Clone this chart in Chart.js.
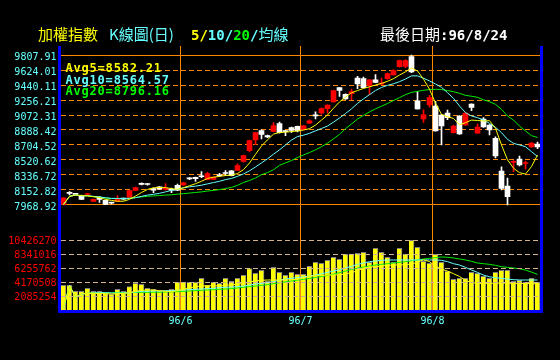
<!DOCTYPE html>
<html><head><meta charset="utf-8">
<script src="https://cdn.jsdelivr.net/npm/chart.js@4.4.1/dist/chart.umd.min.js"></script>
<style>
html,body{margin:0;padding:0;background:#000;width:560px;height:360px;overflow:hidden}
#wrap{position:relative;width:560px;height:360px}
canvas{position:absolute;left:0;top:0}
.t{position:absolute;white-space:nowrap;line-height:16px;top:26px;font-family:"DejaVu Sans Mono","Noto Sans CJK TC",monospace;font-size:14px;font-weight:bold}
.cj{font-family:"Noto Sans CJK TC",sans-serif;font-size:15px;font-weight:normal}
.lg{position:absolute;white-space:nowrap;font-family:"DejaVu Sans Mono",monospace;font-weight:bold;font-size:12px;letter-spacing:0.8px;line-height:12px}
</style></head><body>
<div id="wrap">
<canvas id="c" width="560" height="360"></canvas>
<div class="t" style="left:38px;color:#ffff00"><span class="cj">加權指數</span></div>
<div class="t" style="left:109px;color:#66ffff"><span class="cj">K線圖(日)</span></div>
<div class="t" style="left:191px"><span style="color:#ffff00">5/</span><span style="color:#66ffff">10/</span><span style="color:#00ff00">20</span><span style="color:#66ffff">/<span class="cj">均線</span></span></div>
<div class="t" style="left:380px;color:#ffffff"><span class="cj">最後日期</span>:96/8/24</div>
<div class="lg" id="lg5" style="left:65.5px;top:62px;color:#ffff00"></div>
<div class="lg" id="lg10" style="left:65.5px;top:73.7px;color:#66ffff"></div>
<div class="lg" id="lg20" style="left:65.5px;top:85.4px;color:#00ff00"></div>
</div>
<script>
const dates = [
'96/5/4','96/5/7','96/5/8','96/5/9','96/5/10','96/5/11','96/5/14','96/5/15','96/5/16','96/5/17',
'96/5/18','96/5/21','96/5/22','96/5/23','96/5/24','96/5/25','96/5/28','96/5/29','96/5/30','96/5/31',
'96/6/1','96/6/4','96/6/5','96/6/6','96/6/7','96/6/8','96/6/11','96/6/12','96/6/13','96/6/14',
'96/6/15','96/6/18','96/6/20','96/6/21','96/6/22','96/6/25','96/6/26','96/6/27','96/6/28','96/6/29',
'96/7/2','96/7/3','96/7/4','96/7/5','96/7/6','96/7/9','96/7/10','96/7/11','96/7/12','96/7/13',
'96/7/16','96/7/17','96/7/18','96/7/19','96/7/20','96/7/23','96/7/24','96/7/25','96/7/26','96/7/27',
'96/7/30','96/7/31','96/8/1','96/8/2','96/8/3','96/8/6','96/8/7','96/8/8','96/8/9','96/8/10',
'96/8/13','96/8/14','96/8/15','96/8/16','96/8/17','96/8/20','96/8/21','96/8/22','96/8/23','96/8/24'];

const openP = [
7975,8118,8108,8087,8098,8014,8060,8026,7996,8014,
8046,8063,8149,8228,8225,8170,8193,8160,8160,8210,
8214,8300,8308,8328,8279,8283,8334,8362,8388,8394,
8502,8635,8768,8880,8820,8870,8968,8875,8918,8932,
8893,8972,9070,9097,9150,9234,9407,9325,9333,9526,
9518,9436,9505,9450,9518,9565,9666,9668,9790,9246,
9025,9197,9183,9072,9097,8855,9060,8950,9207,8851,
9023,8950,8787,8386,8202,8490,8533,8478,8680,8717];
const highP = [
8060,8132,8112,8090,8112,8040,8073,8030,8003,8083,
8054,8150,8190,8240,8232,8175,8195,8230,8175,8225,
8247,8305,8312,8380,8370,8315,8357,8390,8392,8475,
8580,8765,8860,8890,8825,8980,8985,8880,8925,8936,
8945,9012,9112,9160,9198,9378,9410,9332,9390,9546,
9538,9508,9567,9526,9585,9628,9745,9752,9807.91,9360,
9135,9312,9240,9080,9133,8945,9065,9100,9210,8962,
9040,8955,8805,8438,8300,8512,8570,8508,8735,8740];
const lowP = [
7970,8092,8092,8035,8090,8012,8002,7972,7978,8010,
8030,8060,8145,8215,8212,8120,8160,8150,8120,8145,
8210,8280,8259,8305,8275,8280,8320,8330,8325,8390,
8495,8620,8709,8780,8795,8866,8850,8820,8860,8865,
8890,8968,9023,9082,9097,9230,9300,9262,9260,9395,
9403,9321,9470,9444,9510,9560,9660,9652,9592,9144,
8980,9168,8874,8705,9015,8850,8835,8945,9125,8849,
8920,8827,8545,8153,7968.92,8378,8447,8410,8675,8660];
const closeP = [
8055,8112,8100,8038,8104,8038,8038,7976,7991,8046,
8040,8145,8181,8222,8220,8152,8165,8175,8150,8150,
8242,8290,8292,8315,8353,8312,8328,8355,8330,8451,
8574,8758,8856,8833,8805,8944,8856,8868,8882,8878,
8941,9002,9062,9150,9195,9371,9375,9268,9358,9454,
9407,9505,9473,9464,9579,9616,9738,9738,9600,9148,
9074,9286,8878,8937,9039,8937,8839,9097,9166,8925,
8925,8888,8570,8173,8071,8505,8459,8490,8729,8680];

const ma5 = [
7975,8075,8090,8085,8080,8070,8060,8038,8025,8015,
8015,8038,8078,8122,8160,8180,8184,8182,8170,8162,
8182,8205,8230,8260,8295,8310,8320,8330,8335,8355,
8402,8484,8590,8692,8768,8838,8858,8862,8868,8878,
8888,8905,8948,9010,9072,9155,9232,9292,9345,9372,
9398,9418,9440,9460,9485,9518,9562,9602,9648,9612,
9512,9388,9218,9080,9050,9030,8952,8978,9010,9005,
8998,9003,8908,8705,8522,8420,8365,8348,8440,8582.21];
const ma10 = [
7975,8075,8090,8080,8082,8075,8068,8058,8050,8050,
8048,8050,8058,8075,8090,8100,8112,8130,8148,8158,
8178,8192,8200,8212,8228,8244,8260,8280,8295,8320,
8350,8388,8435,8485,8535,8592,8645,8705,8765,8808,
8825,8848,8878,8907,8937,8985,9035,9090,9148,9214,
9270,9322,9372,9410,9436,9456,9481,9514,9552,9552,
9524,9490,9452,9411,9346,9277,9183,9101,9060,9040,
9011,8970,8921,8856,8774,8725,8705,8684,8623,8564.57];
const ma20 = [
7975,8075,8090,8085,8082,8072,8065,8055,8048,8048,
8046,8052,8060,8068,8076,8080,8085,8090,8094,8102,
8108,8115,8122,8130,8140,8148,8158,8170,8185,8210,
8245,8270,8300,8341,8366,8402,8455,8485,8514,8552,
8582,8612,8645,8684,8728,8780,8835,8905,8962,9022,
9068,9110,9148,9180,9214,9250,9285,9322,9350,9362,
9375,9385,9387,9385,9372,9358,9338,9313,9302,9289,
9258,9236,9203,9142,9060,9011,8937,8876,8819,8796.16];

const volume = [
3670000,3670000,2780000,2780000,3230000,2780000,2780000,2530000,2330000,3080000,
2780000,3480000,3970000,3820000,3230000,3080000,2880000,2880000,3080000,4120000,
4120000,4120000,4120000,4720000,3670000,4120000,3970000,4720000,4270000,4720000,
5160000,6160000,5460000,5910000,4270000,6360000,5610000,5160000,5610000,5310000,
5310000,6500000,7100000,6950000,7400000,7840000,7550000,8290000,8340000,8440000,
8590000,7100000,9190000,8590000,7840000,7100000,9190000,8340000,10380000,9330000,
7250000,6950000,8290000,7100000,5760000,4570000,4720000,4720000,5610000,5460000,
5010000,4720000,5610000,5910000,5910000,4270000,4420000,4120000,4720000,4120000];
const volMa5 = [
250000,3670000,1890000,2380000,2480000,2480000,2480000,2430000,2380000,2430000,
2480000,2580000,2780000,2930000,2980000,2980000,2880000,2780000,2730000,2880000,
3080000,3280000,3480000,3570000,3620000,3620000,3570000,3670000,3770000,3820000,
3970000,4170000,4320000,4420000,4470000,4470000,4470000,4470000,4520000,4570000,
4770000,5010000,5110000,5160000,5210000,5210000,5260000,5360000,5560000,5860000,
6210000,6400000,6450000,6550000,6650000,6700000,6700000,6750000,6850000,7100000,
7500000,7200000,6500000,6100000,5800000,5400000,5000000,4400000,4100000,3970000,
3950000,3970000,4000000,4020000,4000000,3970000,3970000,3950000,3920000,3900000];
const volMa10 = [
250000,3670000,1890000,2380000,2480000,2530000,2580000,2580000,2530000,2530000,
2530000,2580000,2680000,2780000,2780000,2830000,2830000,2880000,2880000,2930000,
2980000,3030000,3080000,3130000,3180000,3230000,3330000,3380000,3430000,3480000,
3570000,3720000,3870000,3970000,4070000,4220000,4470000,4620000,4720000,4820000,
4920000,5050000,5200000,5400000,5600000,5800000,6000000,6250000,6500000,6800000,
7000000,7200000,7300000,7400000,7450000,7450000,7450000,7450000,7450000,7450000,
7450000,7450000,7450000,7400000,7200000,6900000,6700000,6350000,5960000,5600000,
5200000,4950000,4800000,4720000,4600000,4520000,4470000,4470000,4470000,4470000];
const volMa20 = [
250000,3670000,1890000,2380000,2480000,2530000,2580000,2580000,2560000,2580000,
2580000,2600000,2620000,2620000,2630000,2650000,2650000,2700000,2700000,2730000,
2780000,2830000,2880000,2930000,2980000,3030000,3080000,3130000,3180000,3280000,
3380000,3480000,3570000,3670000,3770000,3920000,4070000,4200000,4320000,4450000,
4570000,4700000,4850000,5000000,5150000,5350000,5550000,5800000,6050000,6250000,
6400000,6550000,6700000,6800000,6900000,7000000,7100000,7200000,7350000,7450000,
7600000,7700000,7800000,7900000,7850000,7750000,7600000,7450000,7250000,7000000,
6900000,6800000,6650000,6450000,6350000,6250000,6150000,5950000,5650000,5300000];

const priceTicks = ['7968.92','8152.82','8336.72','8520.62','8704.52','8888.42','9072.31','9256.21','9440.11','9624.01','9807.91'];
const volumeTicks = ['2085254','4170508','6255762','8341016','10426270'];
const monthTicks = ['96/6','96/7','96/8'];

const ORANGE = '#ff8800', CYAN = '#66ffff', YEL = '#ffff00', GRN = '#00ff00', RED = '#ff0000', WHT = '#ffffff', TAN = '#d2b48c';
const MONO = '"DejaVu Sans Mono", monospace';

document.getElementById('lg5').textContent = 'Avg5=' + ma5[ma5.length-1].toFixed(2);
document.getElementById('lg10').textContent = 'Avg10=' + ma10[ma10.length-1].toFixed(2);
document.getElementById('lg20').textContent = 'Avg20=' + ma20[ma20.length-1].toFixed(2);

const monthIdx = [];
dates.forEach((d, i) => { if (i > 0 && d.split('/')[1] !== dates[i-1].split('/')[1]) monthIdx.push(i); });
const monthLabelAt = {};
monthIdx.forEach((idx, k) => { monthLabelAt[idx] = monthTicks[k]; });

const candleColor = closeP.map((c, i) => c >= openP[i] ? RED : WHT);

const frame = {
  id: 'frame',
  afterDraw(chart) {
    const c = chart.ctx, a = chart.chartArea;
    c.save();
    c.fillStyle = '#0000ff';
    c.fillRect(Math.round(a.left) - 3, a.top, 3, a.bottom - a.top + 3);
    c.fillRect(Math.round(a.right) - 1, a.top, 3, a.bottom - a.top + 3);
    c.fillRect(Math.round(a.left) - 3, a.bottom, Math.round(a.right) - Math.round(a.left) + 5, 3);
    c.restore();
  }
};

const lineDs = (data, color, axis) => ({
  type: 'line', data, yAxisID: axis, borderColor: color, borderWidth: 1,
  pointRadius: 0, fill: false, tension: 0, order: 0
});

new Chart(document.getElementById('c'), {
  type: 'bar',
  data: {
    labels: dates,
    datasets: [
      lineDs(ma5, YEL, 'y'), lineDs(ma10, CYAN, 'y'), lineDs(ma20, '#00ee00', 'y'),
      lineDs(volMa5, YEL, 'yv'), lineDs(volMa10, CYAN, 'yv'), lineDs(volMa20, '#00ee00', 'yv'),
      { type: 'bar', data: lowP.map((l, i) => [l, highP[i]]), yAxisID: 'y', backgroundColor: candleColor,
        barThickness: 1, grouped: false, order: 2 },
      { type: 'bar', data: openP.map((o, i) => [Math.min(o, closeP[i]), Math.max(o, closeP[i])]), yAxisID: 'y',
        backgroundColor: candleColor, barThickness: 5, minBarLength: 1, grouped: false, order: 1 },
      { type: 'bar', data: volume, yAxisID: 'yv', backgroundColor: YEL, borderColor: '#808080',
        borderWidth: { top: 1, right: 1, left: 0, bottom: 0 }, borderSkipped: false,
        barThickness: 5, grouped: false, order: 3 }
    ]
  },
  options: {
    responsive: false, animation: false, events: [],
    layout: { padding: { top: 46, right: 19.5, left: 0, bottom: 0 } },
    plugins: { legend: { display: false }, tooltip: { enabled: false }, title: { display: false } },
    scales: {
      x: {
        type: 'category', offset: true,
        grid: { offset: true, drawTicks: false, lineWidth: 1,
          color: ctx => (monthIdx.includes(ctx.index) ? ORANGE : 'rgba(0,0,0,0)') },
        border: { display: false },
        ticks: { autoSkip: false, maxRotation: 0, minRotation: 0, padding: 5, labelOffset: -3,
          color: CYAN, font: { family: MONO, size: 10 }, callback: (v, i) => monthLabelAt[i] || '' },
        afterFit: s => { s.height = 50; }
      },
      y: {
        type: 'linear', position: 'left', stack: 'panels', stackWeight: 169, weight: 2,
        min: 7846.32, max: 9918.25,
        afterBuildTicks: s => { s.ticks = priceTicks.map(t => ({ value: parseFloat(t) })); },
        ticks: { autoSkip: false, callback: (v, i) => priceTicks[i], color: CYAN,
          font: { family: MONO, size: 10 }, padding: 4, labelOffset: 2 },
        grid: { color: ORANGE, drawTicks: false, lineWidth: 1 },
        border: { display: false, dash: ctx => (ctx.index === 0 || ctx.index === priceTicks.length - 1) ? [] : [5, 3] },
        afterFit: s => { s.width = 60.5; }
      },
      yv: {
        type: 'linear', position: 'left', stack: 'panels', stackWeight: 95, weight: 1,
        min: 0, max: 14149938,
        afterBuildTicks: s => { s.ticks = volumeTicks.map(t => ({ value: Number(t) })); },
        ticks: { autoSkip: false, callback: (v, i) => volumeTicks[i], color: RED,
          font: { family: MONO, size: 10 }, padding: 4, labelOffset: 1.5 },
        grid: { color: TAN, drawTicks: false, lineWidth: 1, z: 1 },
        border: { display: false, dash: [5, 3] },
        afterFit: s => { s.width = 60.5; }
      }
    }
  },
  plugins: [frame]
});
</script>
</body></html>
